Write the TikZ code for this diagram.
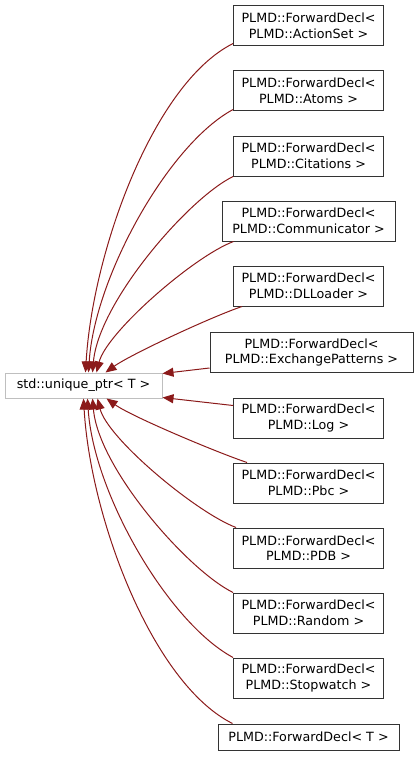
\documentclass[tikz,border=0pt]{standalone}
\usepackage{fontspec}
\setmainfont{DejaVu Sans}
\usepackage{xcolor}
\definecolor{edgered}{HTML}{8B1A1A}
\definecolor{boxgray}{HTML}{BFBFBF}
\usetikzlibrary{arrows.meta}

\begin{document}
\begin{tikzpicture}[x=1pt, y=-1pt, font=\fontsize{12.7}{15.5}\selectfont,
		cls/.style={draw=black!80, line width=1pt, fill=white, align=center, inner xsep=8pt, minimum height=40pt},
		base/.style={draw=boxgray, line width=1pt, minimum width=157pt, minimum height=25pt},
		inh/.style={draw=edgered, line width=1pt, -{Triangle[length=11pt,width=9pt]}}]
			\useasboundingbox (0,0) rectangle (419,757);

			% Base class
			\node[base] (std) at (83.5,385.5) {std::unique\_ptr< T >};

			% Derived classes
			\node[cls] (a1) at (308.5,26) {PLMD::ForwardDecl<\\ PLMD::ActionSet >};
			\node[cls] (a2) at (308.5,91) {PLMD::ForwardDecl<\\ PLMD::Atoms >};
			\node[cls] (a3) at (308.5,156) {PLMD::ForwardDecl<\\ PLMD::Citations >};
			\node[cls, minimum width=173pt] (a4) at (308.5,221) {PLMD::ForwardDecl<\\ PLMD::Communicator >};
			\node[cls] (a5) at (308.5,286) {PLMD::ForwardDecl<\\ PLMD::DLLoader >};
			\node[cls, minimum width=203pt] (a6) at (311.5,352.5) {PLMD::ForwardDecl<\\ PLMD::ExchangePatterns >};
			\node[cls] (a7) at (308.5,418) {PLMD::ForwardDecl<\\ PLMD::Log >};
			\node[cls] (a8) at (308.5,483) {PLMD::ForwardDecl<\\ PLMD::Pbc >};
			\node[cls] (a9) at (308.5,548) {PLMD::ForwardDecl<\\ PLMD::PDB >};
			\node[cls] (a10) at (308.5,613) {PLMD::ForwardDecl<\\ PLMD::Random >};
			\node[cls] (a11) at (308.5,678) {PLMD::ForwardDecl<\\ PLMD::Stopwatch >};
			\node[cls, minimum width=181pt, minimum height=26pt] (a12) at (308.5,737) {PLMD::ForwardDecl< T >};

			% Inheritance edges, upper half
			\draw[inh] ([yshift=3pt]a1.south west) .. controls +(-80,40) and +(7,-120) .. ([xshift=81pt]std.north west);
			\draw[inh] ([yshift=2pt]a2.south west) .. controls +(-65,35) and +(6,-95) .. ([xshift=84pt]std.north west);
			\draw[inh] (a3.south west) .. controls +(-45,22) and +(6,-70) .. ([xshift=88pt]std.north west);
			\draw[inh] ([xshift=12pt]a4.south west) .. controls +(-40,15) and +(10,-40) .. ([xshift=92pt]std.north west);
			\draw[inh] ([xshift=9pt]a5.south west) .. controls +(-30,10) and +(25,-18) .. ([xshift=101pt]std.north west);
			\draw[inh] ([yshift=5pt]a6.south west) -- ([yshift=-1pt]std.north east);

			% Inheritance edges, lower half
			\draw[inh] ([yshift=-8pt]a7.north west) -- ([yshift=1pt]std.south east);
			\draw[inh] ([xshift=14pt]a8.north west) .. controls +(-30,-10) and +(25,18) .. ([xshift=102pt]std.south west);
			\draw[inh] ([xshift=3pt]a9.north west) .. controls +(-40,-15) and +(10,40) .. ([xshift=93pt]std.south west);
			\draw[inh] (a10.north west) .. controls +(-45,-22) and +(6,70) .. ([xshift=88pt]std.south west);
			\draw[inh] (a11.north west) .. controls +(-65,-35) and +(6,95) .. ([xshift=83pt]std.south west);
			\draw[inh] ([xshift=15pt]a12.north west) .. controls +(-80,-40) and +(7,120) .. ([xshift=79pt]std.south west);
		\end{tikzpicture}
\end{document}
